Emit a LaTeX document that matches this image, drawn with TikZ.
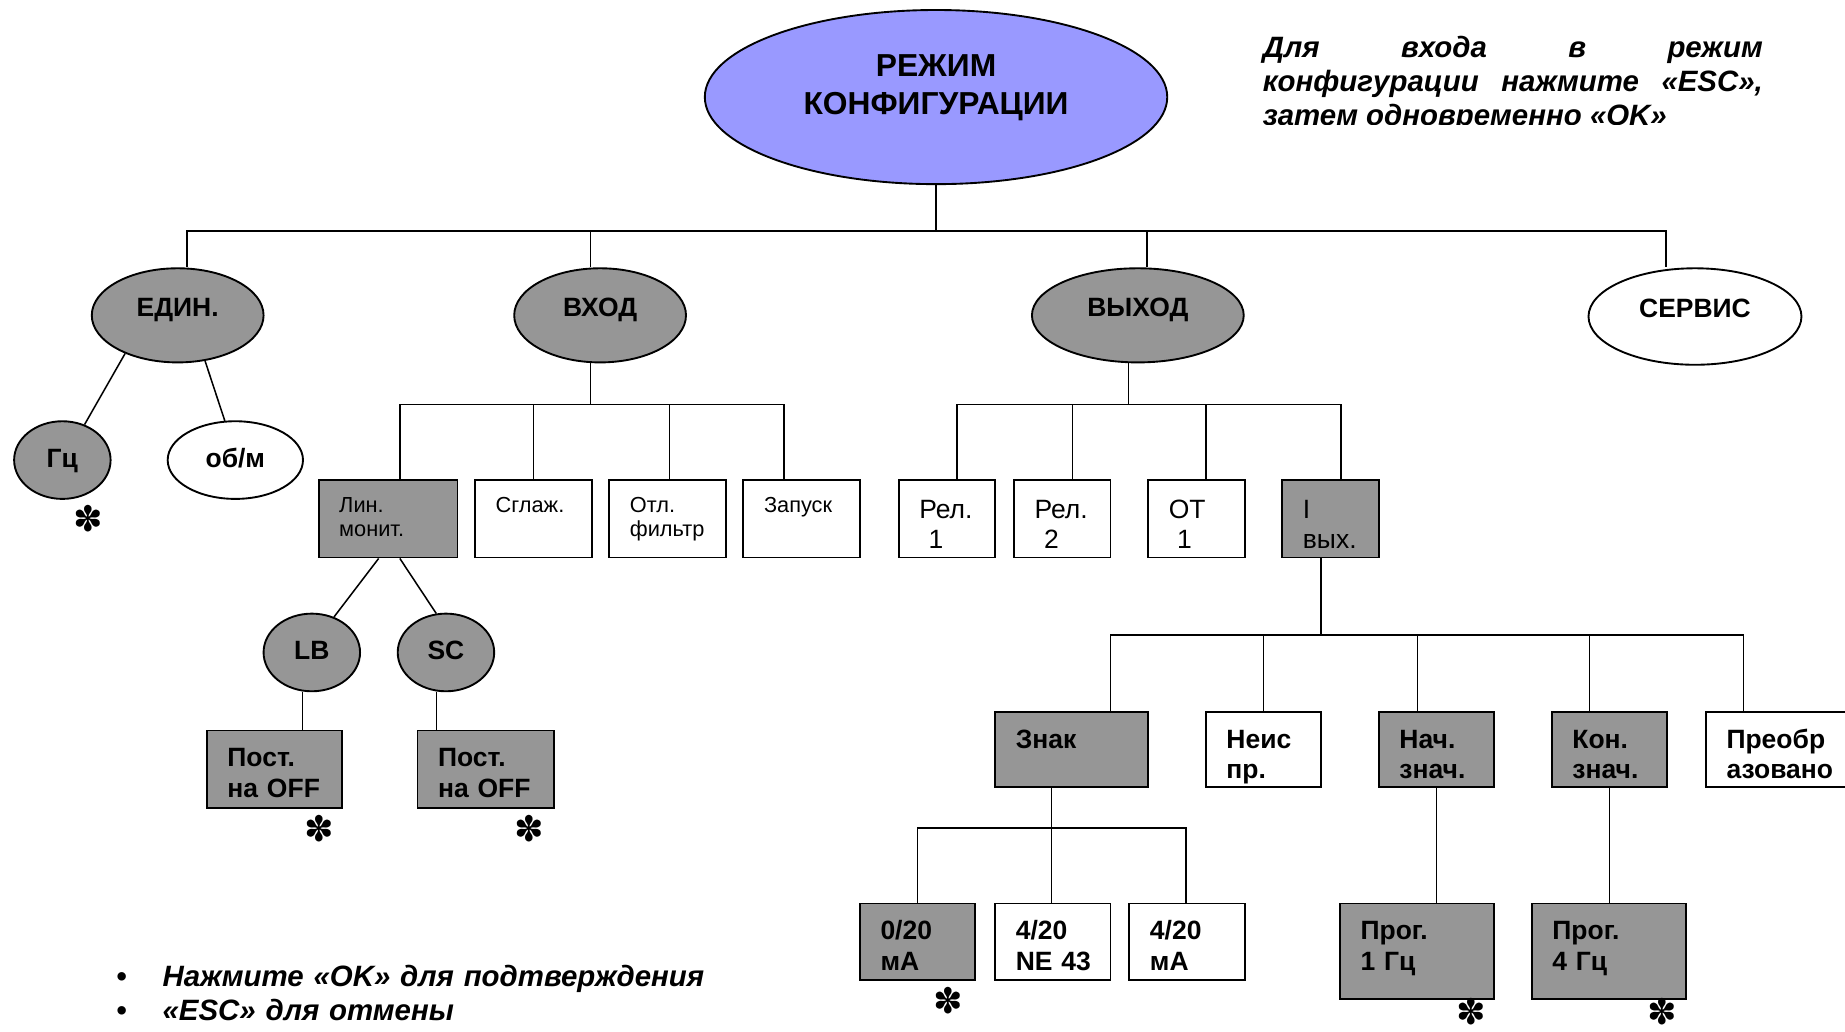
\documentclass[tikz,border=0pt]{standalone}
\usepackage{fontspec}
\usetikzlibrary{shapes.geometric}
\setmainfont{Liberation Sans}
\newfontfamily\symbolfont{DejaVu Sans}
\definecolor{lavender}{RGB}{153,153,255}
\definecolor{boxgray}{RGB}{150,150,150}

\begin{document}
\begin{tikzpicture}[x=1pt, y=-1pt]
    \useasboundingbox (0,0) rectangle (1568,877);
    \tikzset{ModeNode/.style={ellipse, draw=black, fill=lavender, line width=1.6pt, inner sep=2pt, minimum width=393pt, minimum height=148pt, text width=250pt, align=center, font=\fontsize{27}{33}\selectfont\bfseries, text height=20pt, text depth=55.6pt}}
    \tikzset{MenuNode/.style={ellipse, draw=black, fill=boxgray, line width=1.6pt, inner sep=2pt, minimum height=80pt, font=\fontsize{22.5}{26}\selectfont\bfseries, text height=16pt, text depth=14pt}}
    \tikzset{LeafNode/.style={MenuNode, minimum height=66pt, text depth=4pt}}
    \tikzset{BoxNode/.style={rectangle, draw=black, fill=boxgray, line width=1.6pt, inner xsep=17.5pt, inner ysep=0pt, anchor=north west, align=left, font=\fontsize{22.5}{26}\selectfont\bfseries, text height=31pt, text depth=35pt}}
    \tikzset{SmallBox/.style={BoxNode, font=\fontsize{18.5}{21}\selectfont, text height=27.5pt, text depth=38.5pt}}
    \tikzset{RelBox/.style={BoxNode, font=\fontsize{22.5}{25}\selectfont, text height=33pt, text depth=33pt}}
    \tikzset{Connection/.style={line width=1.3pt}}
    \tikzset{Asterisk/.style={inner sep=0pt, font=\fontsize{30}{30}\symbolfont}}
    \tikzset{Note/.style={inner sep=0pt, anchor=base west, font=\fontsize{25}{29}\selectfont\bfseries\itshape}}

    \node[ModeNode] (mode) at (795.5, 82.5) {РЕЖИМ\\КОНФИГУРАЦИИ}; % root
    \node[MenuNode, minimum width=146pt] (menu-unit) at (151, 268) {ЕДИН.}; % units
    \node[MenuNode, minimum width=146pt] (menu-in) at (510, 268) {ВХОД}; % input
    \node[MenuNode, minimum width=180pt] (menu-out) at (967, 268) {ВЫХОД}; % output
    \node[MenuNode, minimum width=181pt, minimum height=82pt, fill=white] (menu-serv) at (1440.5, 269) {СЕРВИС}; % service

    \node[LeafNode, minimum width=82pt] (unit-hz) at (53, 391) {Гц};
    \node[LeafNode, minimum width=115pt, fill=white] (unit-rpm) at (200, 391) {об/м};

    \node[SmallBox, text width=83pt] (in-lin) at (270, 407) {Лин.\\монит.};
    \node[SmallBox, text width=64pt, fill=white] (in-smooth) at (403, 407) {Сглаж.};
    \node[SmallBox, text width=64pt, fill=white] (in-filter) at (517, 407) {Отл.\\фильтр};
    \node[SmallBox, text width=64pt, fill=white] (in-start) at (631, 407) {Запуск};
    \node[RelBox, text width=47pt, fill=white] (out-rel1) at (763, 407) {Рел.\\\hspace*{8pt}1};
    \node[RelBox, text width=47pt, fill=white] (out-rel2) at (861, 407) {Рел.\\\hspace*{8pt}2};
    \node[RelBox, text width=47pt, fill=white] (out-ot1) at (975, 407) {ОТ\\\hspace*{7pt}1};
    \node[RelBox, text width=47pt] (out-i) at (1089, 407) {I\\вых.};

    \node[LeafNode, minimum width=82pt] (lin-lb) at (265, 554.5) {LB};
    \node[LeafNode, minimum width=82pt] (lin-sc) at (379, 554.5) {SC};
    \node[BoxNode, text width=80pt] (lb-off) at (175, 620) {Пост.\\на~OFF};
    \node[BoxNode, text width=81pt] (sc-off) at (354, 620) {Пост.\\на~OFF};

    \node[BoxNode, text width=95pt, text depth=33pt] (i-sign) at (845, 604) {Знак};
    \node[BoxNode, text width=63pt, text depth=33pt, fill=white] (i-unused) at (1024, 604) {Неис\\пр.};
    \node[BoxNode, text width=63pt, text depth=33pt] (i-begin) at (1171, 604) {Нач.\\знач.};
    \node[BoxNode, text width=63pt, text depth=33pt] (i-end) at (1318, 604) {Кон.\\знач.};
    \node[BoxNode, text width=96pt, text depth=33pt, fill=white] (i-conv) at (1449, 604) {Преобр\\азовано};

    \node[BoxNode, text width=63pt, text depth=34pt] (sign-020) at (730, 767) {0/20\\мА};
    \node[BoxNode, text width=63pt, text depth=34pt, fill=white] (sign-ne43) at (845, 767) {4/20\\NE~43};
    \node[BoxNode, text width=63pt, text depth=34pt, fill=white] (sign-420) at (959, 767) {4/20\\мА};
    \node[BoxNode, text width=96pt, text depth=50pt] (begin-prog) at (1138, 767) {Прог.\\1~Гц};
    \node[BoxNode, text width=96pt, text depth=50pt] (end-prog) at (1301, 767) {Прог.\\4~Гц};

    \node[Asterisk] (ast-hz) at (75, 441) {✽};
    \node[Asterisk] (ast-lb) at (271, 704) {✽};
    \node[Asterisk] (ast-sc) at (450, 704) {✽};
    \node[Asterisk] (ast-020) at (806, 850) {✽};
    \node[Asterisk] (ast-begin) at (1250, 860) {✽};
    \node[Asterisk] (ast-end) at (1413, 860) {✽};

    \begin{scope}
        \clip (1060, 0) rectangle (1520, 105.5);
        \node[Note, text width=425pt, align=justify] (note-enter) at (1073, 49) {Для входа в режим\linebreak конфигурации нажмите «ESC»,\linebreak затем одновременно «OK»};
    \end{scope}
    \node[Note, text width=520pt, align=left] (note-keys) at (99, 838) {\makebox[39pt][l]{\upshape •}Нажмите «OK» для подтверждения\\\makebox[39pt][l]{\upshape •}«ESC» для отмены};

    \draw[Connection] (mode.south) -- ++(0,39) -| ([xshift=8pt]menu-unit.north);
    \draw[Connection] (mode.south) -- ++(0,39) -| ([xshift=-8pt]menu-in.north);
    \draw[Connection] (mode.south) -- ++(0,39) -| ([xshift=8pt]menu-out.north);
    \draw[Connection] (mode.south) -- ++(0,39) -| ([xshift=-24.5pt]menu-serv.north);

    \draw[Connection] (menu-unit.216) -- (unit-hz.58);
    \draw[Connection] (menu-unit.301) -- (unit-rpm.105);

    \draw[Connection] ([xshift=-8pt]menu-in.south) -- ++(0,35) -| ([xshift=10pt]in-lin.north);
    \draw[Connection] ([xshift=-8pt]menu-in.south) -- ++(0,35) -| (in-smooth.north);
    \draw[Connection] ([xshift=-8pt]menu-in.south) -- ++(0,35) -| ([xshift=1.5pt]in-filter.north);
    \draw[Connection] ([xshift=-8pt]menu-in.south) -- ++(0,35) -| ([xshift=-15pt]in-start.north);

    \draw[Connection] ([xshift=-8pt]menu-out.south) -- ++(0,35) -| ([xshift=8.5pt]out-rel1.north);
    \draw[Connection] ([xshift=-8pt]menu-out.south) -- ++(0,35) -| ([xshift=8.5pt]out-rel2.north);
    \draw[Connection] ([xshift=-8pt]menu-out.south) -- ++(0,35) -| ([xshift=8pt]out-ot1.north);
    \draw[Connection] ([xshift=-8pt]menu-out.south) -- ++(0,35) -| ([xshift=9pt]out-i.north);

    \draw[Connection] ([xshift=-8pt]in-lin.south) -- (lin-lb.58);
    \draw[Connection] ([xshift=10pt]in-lin.south) -- (lin-sc.104);
    \draw[Connection] ([xshift=-8pt]lin-lb.south) -- ([xshift=-8pt]lin-lb.south |- lb-off.north);
    \draw[Connection] ([xshift=-8pt]lin-sc.south) -- ([xshift=-8pt]lin-sc.south |- sc-off.north);

    \draw[Connection] ([xshift=-8pt]out-i.south) -- ++(0,65) -| ([xshift=33pt]i-sign.north);
    \draw[Connection] ([xshift=-8pt]out-i.south) -- ++(0,65) -| (i-unused.north);
    \draw[Connection] ([xshift=-8pt]out-i.south) -- ++(0,65) -| ([xshift=-16pt]i-begin.north);
    \draw[Connection] ([xshift=-8pt]out-i.south) -- ++(0,65) -| ([xshift=-17pt]i-end.north);
    \draw[Connection] ([xshift=-8pt]out-i.south) -- ++(0,65) -| ([xshift=-33.5pt]i-conv.north);

    \draw[Connection] ([xshift=-17pt]i-sign.south) -- ++(0,34) -| (sign-020.north);
    \draw[Connection] ([xshift=-17pt]i-sign.south) -- ++(0,34) -| ([xshift=-1pt]sign-ne43.north);
    \draw[Connection] ([xshift=-17pt]i-sign.south) -- ++(0,34) -| ([xshift=-1pt]sign-420.north);
    \draw[Connection] (i-begin.south) -- (i-begin.south |- begin-prog.north);
    \draw[Connection] (i-end.south) -- (i-end.south |- end-prog.north);
\end{tikzpicture}
\end{document}
